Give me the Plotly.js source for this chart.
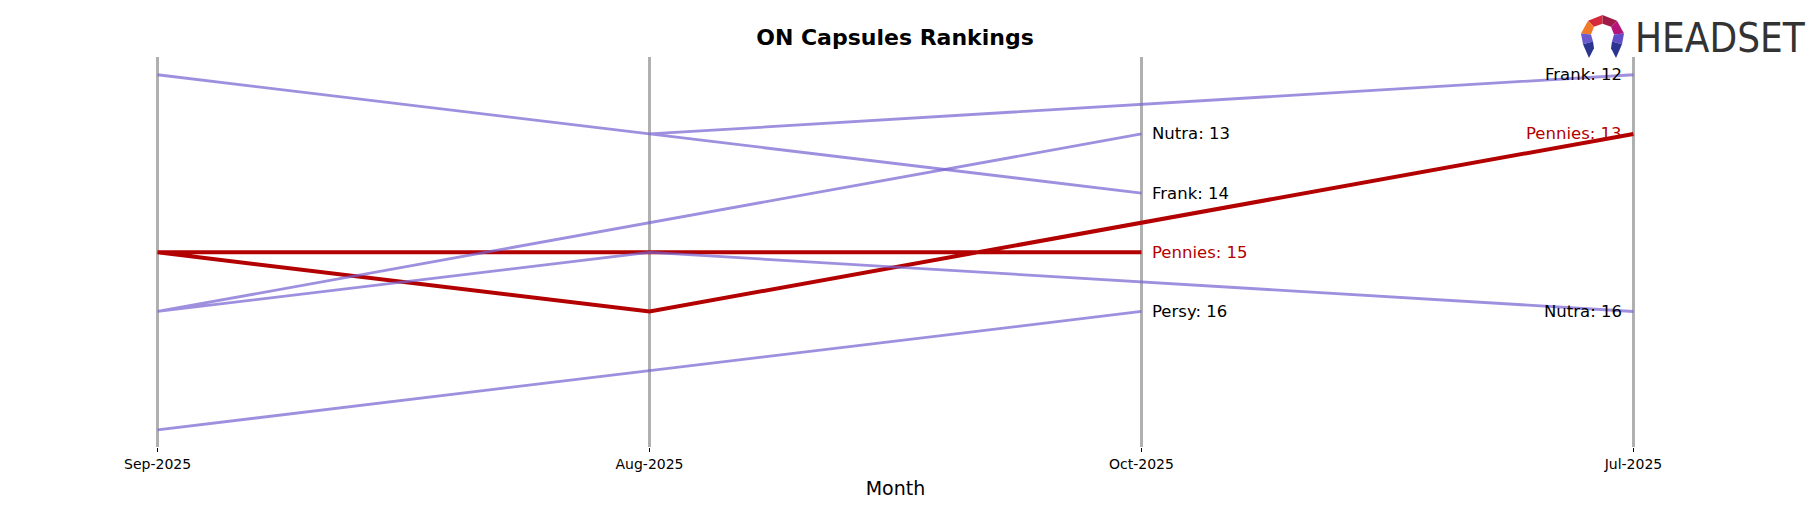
<!DOCTYPE html>
<html>
<head>
<meta charset="utf-8">
<script src="https://cdn.plot.ly/plotly-3.0.1.min.js"></script>
<style>html,body{margin:0;padding:0;background:#fff;}#chart{width:1818px;height:507px;}</style>
</head>
<body>
<div id="chart"></div>
<script>
// Data (chronological month order)
const months = ['Jul-2025', 'Aug-2025', 'Sep-2025', 'Oct-2025'];
// Tick order as shown on the axis
const tickOrder = ['Sep-2025', 'Aug-2025', 'Oct-2025', 'Jul-2025'];
const brands = ['Frank', 'Nutra', 'Persy', 'Pennies'];
const frankRanks = [12, 13, 12, 14];
const nutraRanks = [16, 15, 16, 13];
const persyRanks = [null, 17, 18, 16];
const penniesRanks = [13, 16, 15, 15];
const highlightBrand = 'Pennies';

const rankSeries = {Frank: frankRanks, Nutra: nutraRanks, Persy: persyRanks, Pennies: penniesRanks};

const purple = 'rgba(120,100,210,0.72)';
const red = '#b30000';

// Plot area in pixels
const L = 10, R = 37, T = 57, B = 60;
const W = 1818 - L - R, H = 507 - T - B;

const traces = [];
const annotations = [];
const order = [highlightBrand].concat(brands.filter(b => b !== highlightBrand));
order.forEach(b => {
  const hl = b === highlightBrand;
  const col = hl ? red : purple;
  traces.push({
    type: 'scatter', mode: 'lines',
    x: months, y: rankSeries[b],
    line: {color: col, width: hl ? 4 : 2.8},
    connectgaps: false, hoverinfo: 'skip', showlegend: false
  });
  const r = rankSeries[b];
  // label at last month (Oct) to the right
  if (r[3] != null) {
    annotations.push({x: months[3], y: r[3], xref: 'x', yref: 'y', text: b + ': ' + r[3],
      showarrow: false, xanchor: 'left', yanchor: 'middle', xshift: 9,
      font: {family: 'DejaVu Sans', size: 16.5, color: hl ? red : '#000'}});
  }
  // label at first month (Jul) to the left
  if (r[0] != null) {
    annotations.push({x: months[0], y: r[0], xref: 'x', yref: 'y', text: b + ': ' + r[0],
      showarrow: false, xanchor: 'right', yanchor: 'middle', xshift: -9,
      font: {family: 'DejaVu Sans', size: 16.5, color: hl ? red : '#000'}});
  }
});

// Logo text
annotations.push({xref: 'paper', yref: 'paper', x: (1633 - L) / W, y: (H + T - 38) / H,
  xanchor: 'left', yanchor: 'middle', showarrow: false, text: 'HEADSET',
  font: {family: 'DejaVu Sans Condensed, sans-serif', size: 40, color: '#333333'}});

const logoSvg = '<svg xmlns="http://www.w3.org/2000/svg" viewBox="0 0 45 45">' +
  '<polygon points="22.5,0 8,6 14,12 22.5,9" fill="#d42a3c"/>' +
  '<polygon points="22.5,0 37,6 31,12 22.5,9" fill="#a01a48"/>' +
  '<polygon points="8,6 1,19 11,20 14,12" fill="#f07a2a"/>' +
  '<polygon points="37,6 44,19 34,20 31,12" fill="#b5157a"/>' +
  '<polygon points="1,19 3,30 13,27 11,20" fill="#6a5ad0"/>' +
  '<polygon points="44,19 42,30 32,27 34,20" fill="#5e4fc8"/>' +
  '<polygon points="3,30 13,27 14,34 9,44" fill="#2b3590"/>' +
  '<polygon points="42,30 32,27 31,34 36,44" fill="#2b3590"/>' +
  '</svg>';

const layout = {
  width: 1818, height: 507,
  margin: {l: L, r: R, t: T, b: B},
  paper_bgcolor: '#fff', plot_bgcolor: '#fff',
  title: {text: '<b>ON Capsules Rankings</b>', x: 895 / 1818, xanchor: 'center', xref: 'container',
    y: 1 - 37 / 507, yanchor: 'middle', yref: 'container',
    font: {family: 'DejaVu Sans', size: 22, color: '#000'}},
  xaxis: {
    type: 'category', categoryorder: 'array', categoryarray: tickOrder,
    range: [-0.3, 3.3],
    showgrid: true, gridcolor: '#b0b0b0', gridwidth: 2.5,
    zeroline: false, showline: false,
    ticks: 'outside', ticklen: 4, tickcolor: '#000', tickwidth: 1,
    tickfont: {family: 'DejaVu Sans', size: 14, color: '#000'},
    title: {text: 'Month', font: {family: 'DejaVu Sans', size: 19, color: '#000'}, standoff: 10}
  },
  yaxis: {range: [18.29, 11.7], visible: false, showgrid: false, zeroline: false},
  annotations: annotations,
  images: [{source: 'data:image/svg+xml;charset=utf-8,' + encodeURIComponent(logoSvg),
    xref: 'paper', yref: 'paper', x: (1580 - L) / W, y: (H + T - 15) / H,
    sizex: 45 / W, sizey: 44 / H, xanchor: 'left', yanchor: 'top', sizing: 'stretch', layer: 'above'}],
  showlegend: false
};

Plotly.newPlot('chart', traces, layout, {displayModeBar: false, staticPlot: true});
</script>
</body>
</html>
